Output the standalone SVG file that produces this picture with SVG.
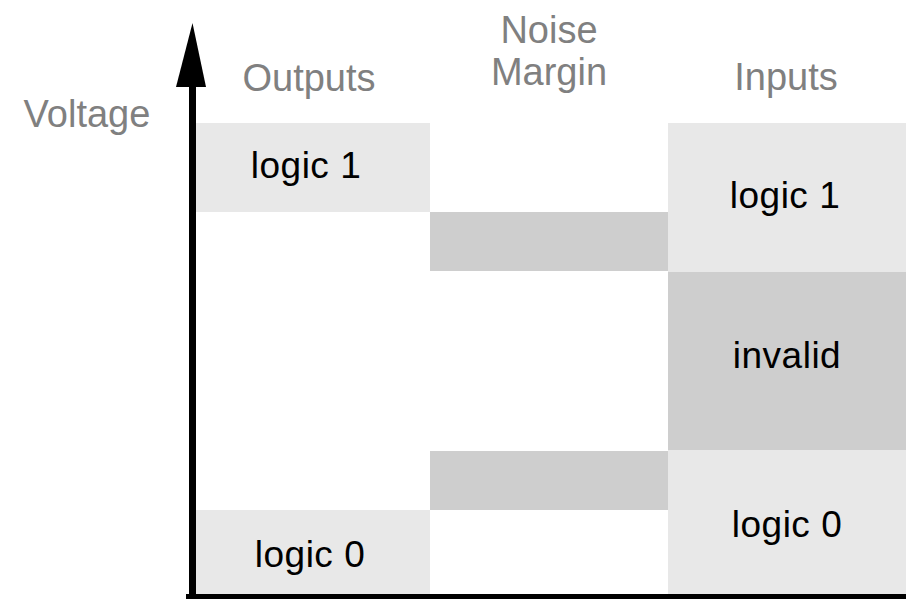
<svg xmlns="http://www.w3.org/2000/svg" width="906" height="599" viewBox="0 0 906 599">
<style>
.light{fill:#e8e8e8}
.dark{fill:#cecece}
.hdr{font-family:"Liberation Sans",Arial,sans-serif;font-size:38px;fill:#808080;text-anchor:middle}
.lbl{font-family:"Liberation Sans",Arial,sans-serif;font-size:37px;fill:#000;text-anchor:middle;letter-spacing:0.5px}
</style>
<rect width="906" height="599" fill="#fff"/>
<g id="out-logic1"><rect class="light" x="196" y="123" width="234" height="89"/><text class="lbl" x="306" y="178">logic 1</text></g>
<g id="out-logic0"><rect class="light" x="196" y="510" width="234" height="84"/><text class="lbl" x="310" y="567">logic 0</text></g>
<g id="nm-high"><rect class="dark" x="430" y="212" width="238" height="59"/></g>
<g id="nm-low"><rect class="dark" x="430" y="451" width="238" height="59"/></g>
<g id="in-logic1"><rect class="light" x="668" y="123" width="238" height="149"/><text class="lbl" x="785" y="208">logic 1</text></g>
<g id="in-invalid"><rect class="dark" x="668" y="272" width="238" height="178"/><text class="lbl" x="787" y="368">invalid</text></g>
<g id="in-logic0"><rect class="light" x="668" y="450" width="238" height="144"/><text class="lbl" x="787" y="537">logic 0</text></g>
<g id="headers">
<text class="hdr" x="87" y="127">Voltage</text>
<text class="hdr" x="309" y="91">Outputs</text>
<text class="hdr" x="549" y="43">Noise</text>
<text class="hdr" x="549" y="85">Margin</text>
<text class="hdr" x="786" y="90">Inputs</text>
</g>
<g id="axes">
<rect x="189" y="80" width="7" height="519" fill="#000"/>
<polygon points="192.5,23 176,87 206,87" fill="#000"/>
<rect x="186" y="594" width="720" height="5" fill="#000"/>
</g>
</svg>
